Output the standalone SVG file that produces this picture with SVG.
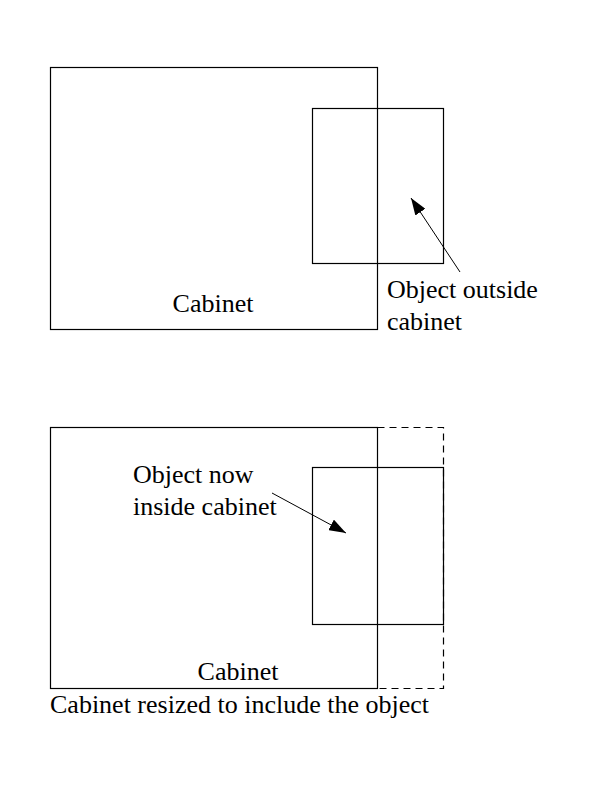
<svg xmlns="http://www.w3.org/2000/svg" width="593" height="787" viewBox="0 0 593 787">
<style>
.box{fill:none;stroke:#000;stroke-width:1.2}
.dash{fill:none;stroke:#000;stroke-width:1.2;stroke-dasharray:7 5}
.lbl{font-family:"Liberation Serif","Times New Roman",serif;font-size:26px;fill:#000}
.arr{stroke:#000;stroke-width:1}
</style>
<defs>
<marker id="ah" markerWidth="18" markerHeight="12" refX="17" refY="6" orient="auto" markerUnits="userSpaceOnUse">
<path d="M0,0 L17,6 L0,12 Z" fill="#000"/>
</marker>
</defs>
<rect width="593" height="787" fill="#fff"/>
<g id="cabinet-top">
<rect class="box" x="50.5" y="67.5" width="327" height="262"/>
<text class="lbl" x="213" y="312" text-anchor="middle">Cabinet</text>
</g>
<g id="object-top">
<rect class="box" x="312.5" y="108.5" width="131" height="155"/>
</g>
<g id="label-top">
<text class="lbl" x="387" y="298">Object outside</text>
<text class="lbl" x="387" y="330">cabinet</text>
</g>
<g id="cabinet-bottom">
<rect class="box" x="50.5" y="427.5" width="327" height="261"/>
<path class="dash" d="M377.5,427.5 H443.5 V688.5 H377.5"/>
<text class="lbl" x="238" y="680" text-anchor="middle">Cabinet</text>
</g>
<g id="object-bottom">
<rect class="box" x="312.5" y="467.5" width="131" height="157"/>
</g>
<g id="label-bottom">
<text class="lbl" x="133" y="483">Object now</text>
<text class="lbl" x="133" y="515">inside cabinet</text>
</g>
<g id="caption">
<text class="lbl" x="50" y="713">Cabinet resized to include the object</text>
</g>
<g id="connectors">
<line class="arr" x1="460" y1="272" x2="411" y2="198" marker-end="url(#ah)"/>
<line class="arr" x1="272" y1="493" x2="346" y2="533" marker-end="url(#ah)"/>
</g>
</svg>
